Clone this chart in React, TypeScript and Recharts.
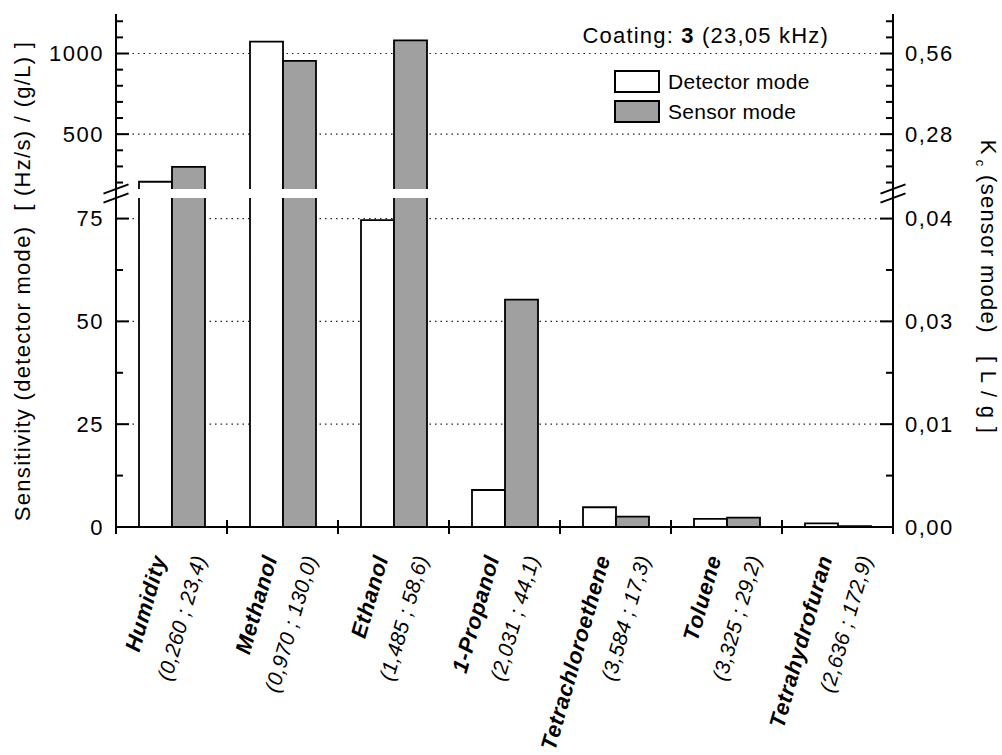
import React from 'react';
import { BarChart, Bar, XAxis, YAxis, CartesianGrid, Legend } from 'recharts';

// ---------- data ----------
const solvents = ['Humidity', 'Methanol', 'Ethanol', '1-Propanol', 'Tetrachloroethene', 'Toluene', 'Tetrahydrofuran'];
const solventParams = ['(0,260 ; 23,4)', '(0,970 ; 130,0)', '(1,485 ; 58,6)', '(2,031 ; 44,1)', '(3,584 ; 17,3)', '(3,325 ; 29,2)', '(2,636 ; 172,9)'];
const detectorMode = [205, 1074, 74.6, 9.0, 4.8, 2.0, 0.9];
const sensorMode = [297, 954, 1082, 55.3, 2.5, 2.3, 0.2];

const upperDomain = [160, 1245];
const lowerDomain = [0, 80];
const upperMajorTicks = [500, 1000];
const upperMinorTicks = [200, 300, 400, 600, 700, 800, 900, 1100, 1200];
const lowerMajorTicks = [0, 25, 50, 75];
const lowerMinorTicks = [12.5, 37.5, 62.5];
const upperGrid = [500, 1000];
const lowerGrid = [25, 50, 75];
const kcPerSensitivity = 0.56 / 1000;

const data = solvents.map((name, i) => ({ name, detector: detectorMode[i], sensor: sensorMode[i] }));
const upperData = data.map((d) => ({
  name: d.name,
  detector: d.detector >= upperDomain[0] ? d.detector : null,
  sensor: d.sensor >= upperDomain[0] ? d.sensor : null,
}));

// ---------- layout ----------
const W = 1002;
const H = 755;
const PLOT_LEFT = 116;
const PLOT_RIGHT = 893;
const UPPER_TOP = 14;
const UPPER_BOTTOM = 189;
const LOWER_TOP = 198;
const LOWER_BOTTOM = 527;
const AXIS_W = 60;
const FONT = '"Liberation Sans", Arial, Helvetica, sans-serif';
const GRAY = '#a0a0a0';
const LABEL_ROT = -74;

const fmtS = (v: number) => String(v);
const fmtK = (v: number) => v.toFixed(2).replace('.', ',');

const isIn = (arr: number[], v: number) => arr.some((m) => Math.abs(m - v) < 1e-9);

function makeYTick(side: 'left' | 'right', majors: number[], format: (v: number) => string) {
  return (props: any) => {
    const { x, y, payload } = props;
    const v = payload.value;
    const major = isIn(majors, v);
    const len = major ? 13 : 7;
    const dir = side === 'left' ? 1 : -1;
    return (
      <g>
        <line x1={x} x2={x + dir * len} y1={y} y2={y} stroke="#000" strokeWidth={2} />
        {major && (
          <text
            x={side === 'left' ? x - 12 : x + 12}
            y={y}
            dy="0.36em"
            textAnchor={side === 'left' ? 'end' : 'start'}
            fontFamily={FONT}
            fontSize={22}
            letterSpacing={1.5}
            fill="#000"
          >
            {format(v)}
          </text>
        )}
      </g>
    );
  };
}

const BarShape = (props: any) => {
  const { x, y, width, height, fill } = props;
  if (x == null || y == null || !width || !height || height <= 0) return null;
  return (
    <g>
      <rect x={x} y={y} width={width} height={height} fill={fill} />
      <path
        d={`M${x},${y + height} V${y} H${x + width} V${y + height}`}
        fill="none"
        stroke="#000"
        strokeWidth={1.8}
      />
    </g>
  );
};

const XTick = (props: any) => {
  const { x, y, payload } = props;
  const i = solvents.indexOf(payload.value);
  const half = payload.offset ?? (PLOT_RIGHT - PLOT_LEFT) / solvents.length / 2;
  return (
    <g>
      <line x1={x - half} x2={x - half} y1={y - 7} y2={y + 7} stroke="#000" strokeWidth={2} />
      {i === solvents.length - 1 && (
        <line x1={x + half} x2={x + half} y1={y} y2={y + 7} stroke="#000" strokeWidth={2} />
      )}
      <text
        transform={`translate(${x - 5},${y + 31}) rotate(${LABEL_ROT})`}
        textAnchor="end"
        fontFamily={FONT}
        fontSize={22}
        fontWeight="bold"
        fontStyle="italic"
        letterSpacing={0.6}
        fill="#000"
      >
        {solvents[i]}
      </text>
      <text
        transform={`translate(${x + 35},${y + 31}) rotate(${LABEL_ROT})`}
        textAnchor="end"
        fontFamily={FONT}
        fontSize={21}
        fontStyle="italic"
        letterSpacing={0.3}
        fill="#000"
      >
        {solventParams[i]}
      </text>
    </g>
  );
};

const renderLegend = (props: any) => {
  const payload = props.payload || [];
  return (
    <div style={{ fontFamily: FONT }}>
      {payload.map((e: any, i: number) => (
        <div key={i} style={{ display: 'flex', alignItems: 'center', height: 23, marginBottom: i === 0 ? 7 : 0 }}>
          <div
            style={{
              width: 42,
              height: 19,
              border: '2px solid #000',
              background: e.color,
              boxSizing: 'content-box',
            }}
          />
          <span style={{ marginLeft: 8, fontSize: 21, color: '#000', lineHeight: '23px', letterSpacing: 0.3 }}>
            {e.value}
          </span>
        </div>
      ))}
    </div>
  );
};

const axisLineStyle = { stroke: '#000', strokeWidth: 2 };
const margins = (top: number) => ({
  top,
  bottom: 0,
  left: PLOT_LEFT - AXIS_W,
  right: W - PLOT_RIGHT - AXIS_W,
});

export default function App() {
  const breakYs = [UPPER_BOTTOM, LOWER_TOP];
  return (
    <div style={{ position: 'absolute', left: 0, top: 0, width: W, height: H, background: '#fff' }}>
      {/* lower panel */}
      <div style={{ position: 'absolute', left: 0, top: 0 }}>
        <BarChart width={W} height={H} data={data} margin={margins(LOWER_TOP)} barCategoryGap={23} barGap={0}>
          <CartesianGrid
            yAxisId="L"
            vertical={false}
            horizontalValues={lowerGrid}
            syncWithTicks
            stroke="#222"
            strokeWidth={1.2}
            strokeDasharray="1.5 4"
          />
          <XAxis
            dataKey="name"
            height={H - LOWER_BOTTOM}
            axisLine={axisLineStyle}
            tickLine={false}
            tickSize={0}
            tickMargin={0}
            interval={0}
            tick={XTick}
          />
          <YAxis
            yAxisId="L"
            type="number"
            domain={lowerDomain}
            allowDataOverflow
            ticks={[...lowerMinorTicks, ...lowerMajorTicks]}
            interval={0}
            width={AXIS_W}
            axisLine={axisLineStyle}
            tickLine={false}
            tickSize={0}
            tickMargin={0}
            tick={makeYTick('left', lowerMajorTicks, fmtS)}
          />
          <YAxis
            yAxisId="R"
            orientation="right"
            type="number"
            domain={lowerDomain.map((v) => v * kcPerSensitivity)}
            allowDataOverflow
            ticks={[...lowerMinorTicks, ...lowerMajorTicks].map((v) => v * kcPerSensitivity)}
            interval={0}
            width={AXIS_W}
            axisLine={axisLineStyle}
            tickLine={false}
            tickSize={0}
            tickMargin={0}
            tick={makeYTick('right', lowerMajorTicks.map((v) => v * kcPerSensitivity), fmtK)}
          />
          <Bar yAxisId="L" dataKey="detector" name="Detector mode" fill="#fff" shape={BarShape} isAnimationActive={false} />
          <Bar yAxisId="L" dataKey="sensor" name="Sensor mode" fill={GRAY} shape={BarShape} isAnimationActive={false} />
        </BarChart>
      </div>

      {/* upper panel */}
      <div style={{ position: 'absolute', left: 0, top: 0 }}>
        <BarChart width={W} height={UPPER_BOTTOM} data={upperData} margin={margins(UPPER_TOP)} barCategoryGap={23} barGap={0}>
          <CartesianGrid
            yAxisId="L"
            vertical={false}
            horizontalValues={upperGrid}
            syncWithTicks
            stroke="#222"
            strokeWidth={1.2}
            strokeDasharray="1.5 4"
          />
          <XAxis dataKey="name" hide />
          <YAxis
            yAxisId="L"
            type="number"
            domain={upperDomain}
            allowDataOverflow
            ticks={[...upperMinorTicks, ...upperMajorTicks]}
            interval={0}
            width={AXIS_W}
            axisLine={axisLineStyle}
            tickLine={false}
            tickSize={0}
            tickMargin={0}
            tick={makeYTick('left', upperMajorTicks, fmtS)}
          />
          <YAxis
            yAxisId="R"
            orientation="right"
            type="number"
            domain={upperDomain.map((v) => v * kcPerSensitivity)}
            allowDataOverflow
            ticks={[...upperMinorTicks, ...upperMajorTicks].map((v) => v * kcPerSensitivity)}
            interval={0}
            width={AXIS_W}
            axisLine={axisLineStyle}
            tickLine={false}
            tickSize={0}
            tickMargin={0}
            tick={makeYTick('right', upperMajorTicks.map((v) => v * kcPerSensitivity), fmtK)}
          />
          <Bar yAxisId="L" dataKey="detector" name="Detector mode" fill="#fff" shape={BarShape} isAnimationActive={false} />
          <Bar yAxisId="L" dataKey="sensor" name="Sensor mode" fill={GRAY} shape={BarShape} isAnimationActive={false} />
          <Legend
            layout="horizontal"
            verticalAlign="middle"
            align="center"
            content={renderLegend}
            wrapperStyle={{ left: 614, top: 70, width: 260, height: 60 }}
          />
        </BarChart>
      </div>

      {/* annotations: titles, break marks */}
      <svg
        width={W}
        height={H}
        style={{ position: 'absolute', left: 0, top: 0, pointerEvents: 'none' }}
      >
        {[PLOT_LEFT, PLOT_RIGHT].map((ax) => (
          <g key={ax}>
            <line x1={ax} x2={ax} y1={UPPER_BOTTOM} y2={LOWER_TOP} stroke="#000" strokeWidth={2} />
            {breakYs.map((by) => (
              <line key={by} x1={ax - 12.5} y1={by + 4.6} x2={ax + 12.5} y2={by - 4.6} stroke="#000" strokeWidth={2} />
            ))}
          </g>
        ))}
        <text x={829} y={43} textAnchor="end" fontFamily={FONT} fontSize={22} letterSpacing={1.2} fill="#000">
          Coating: <tspan fontWeight="bold">3</tspan> (23,05 kHz)
        </text>
        <text
          transform={`translate(30,281) rotate(-90)`}
          textAnchor="middle"
          fontFamily={FONT}
          fontSize={22}
          letterSpacing={1.3}
          fill="#000"
          xmlSpace="preserve"
          style={{ whiteSpace: 'pre' }}
        >
          {'Sensitivity (detector mode)  [ (Hz/s) / (g/L) ]'}
        </text>
        <text
          transform={`translate(981,287) rotate(90)`}
          textAnchor="middle"
          fontFamily={FONT}
          fontSize={22}
          letterSpacing={1.3}
          fill="#000"
          xmlSpace="preserve"
          style={{ whiteSpace: 'pre' }}
        >
          K
          <tspan dx={4} dy={5} fontSize={13}>c</tspan>
          <tspan dy={-5}>{' (sensor mode)   [ L / g ]'}</tspan>
        </text>
      </svg>
    </div>
  );
}
